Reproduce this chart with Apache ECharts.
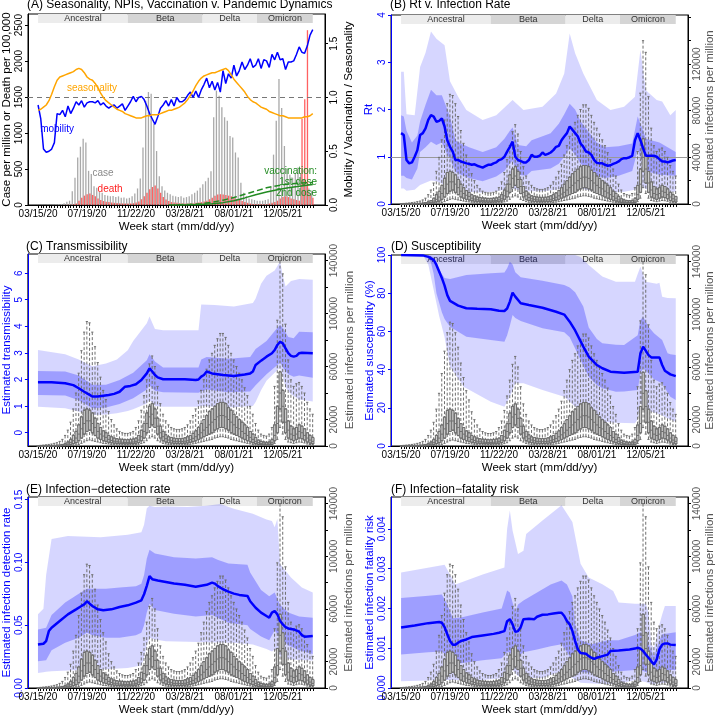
<!DOCTYPE html>
<html>
<head>
<meta charset="utf-8">
<script src="https://cdn.jsdelivr.net/npm/echarts@6.0.0/dist/echarts.min.js"></script>
<style>
html,body{margin:0;padding:0;background:#fff;}
#chart{width:717px;height:717px;}
</style>
</head>
<body>
<div id="chart"></div>
<script>
// ---------------- data ----------------
const xTickWeeks = [0, 18, 36, 54, 72, 90];
const xTickLabels = ['03/15/20', '07/19/20', '11/22/20', '03/28/21', '08/01/21', '12/05/21'];
const variants = ['Ancestral', 'Beta', 'Delta', 'Omicron'];
const variantStart = [0, 33, 60.5, 80.5];
const variantEnd = [33, 60.5, 80.5, 101];

// Panel A (weekly, week 0 = 03/15/20)
const casesPerMillion = [
  0,0,1,1,2,3,5,7,10,15,
  25,45,60,190,380,660,810,920,870,475,
  430,260,240,180,170,140,130,120,125,110,
  120,100,105,90,100,120,160,230,370,800,
  1450,1570,1545,1130,750,400,260,200,170,150,
  130,120,110,120,100,110,120,150,170,200,
  240,290,330,380,470,1220,1590,1520,1360,1220,
  1170,960,940,730,660,310,170,120,90,80,
  70,60,60,60,70,80,250,700,1170,1750,
  1350,820,500,420,380,450,520,430,350,280,
  230,200];
const deathsPer100k = [
  0,0,0,0,0,0,0,0,1,1,
  2,3,5,10,20,60,100,130,150,160,
  140,120,90,70,55,45,40,35,30,28,
  25,22,20,20,22,25,35,50,80,120,
  170,220,250,270,230,170,110,75,55,40,
  35,30,25,22,20,20,22,25,30,35,
  40,50,60,80,100,130,145,150,145,140,
  130,120,100,85,70,55,40,30,20,15,
  12,10,10,10,12,20,30,40,60,90,
  110,120,110,90,80,70,60,1200,1470,2430,
  150,100];
const mobility = [
  0.93,0.80,0.52,0.49,0.50,0.52,0.58,0.85,0.84,0.88,
  0.82,0.92,0.85,0.90,0.96,0.93,0.97,0.91,0.95,0.96,
  0.96,0.95,0.97,0.93,0.95,0.92,0.90,0.92,0.93,0.90,
  0.92,0.94,0.88,0.92,0.96,1.01,0.96,1.00,1.01,0.98,
  0.92,0.85,0.80,0.75,0.82,0.90,0.93,0.97,0.92,0.98,
  0.92,1.00,0.96,0.96,0.98,1.02,1.05,1.00,1.06,1.00,
  1.07,1.12,1.18,1.09,1.15,1.07,1.14,1.05,1.25,1.13,
  1.22,1.18,1.30,1.20,1.25,1.33,1.26,1.30,1.36,1.28,
  1.30,1.36,1.27,1.35,1.34,1.28,1.40,1.35,1.42,1.35,
  1.36,1.26,1.33,1.33,1.34,1.40,1.47,1.42,1.41,1.48,
  1.58,1.63];
const seasonality = [
  0.88,0.89,0.91,0.93,0.97,1.03,1.10,1.16,1.19,1.20,
  1.21,1.22,1.23,1.24,1.26,1.27,1.26,1.23,1.19,1.17,
  1.16,1.13,1.09,1.04,1.00,0.97,0.95,0.93,0.91,0.89,
  0.88,0.87,0.85,0.84,0.83,0.82,0.81,0.81,0.81,0.82,
  0.83,0.83,0.84,0.84,0.84,0.85,0.86,0.87,0.88,0.88,
  0.89,0.90,0.91,0.93,0.95,0.98,1.02,1.06,1.11,1.15,
  1.18,1.20,1.21,1.22,1.23,1.23,1.24,1.25,1.26,1.27,
  1.25,1.21,1.17,1.14,1.11,1.08,1.05,1.01,0.98,0.96,
  0.95,0.93,0.91,0.90,0.89,0.87,0.86,0.85,0.84,0.83,
  0.83,0.82,0.81,0.81,0.81,0.81,0.81,0.81,0.82,0.82,
  0.83,0.85];
const vaccine1st = [[48,0],[52,0.002],[56,0.006],[60,0.012],[64,0.025],[68,0.045],[72,0.07],[76,0.10],[80,0.13],[84,0.16],[88,0.18],[92,0.195],[96,0.203],[101,0.21]];
const vaccine2nd = [[50,0],[56,0.002],[60,0.005],[64,0.011],[68,0.022],[72,0.04],[76,0.066],[80,0.095],[84,0.12],[88,0.142],[92,0.16],[96,0.175],[101,0.19]];

// Estimated infections per million (weekly box plots, panels B-F)
const infMed = [
  50,80,100,120,150,200,250,300,400,600,
  900,1500,2500,4000,6000,9000,13000,17000,19000,19000,
  17000,14000,11000,9000,7500,6500,5000,4200,3600,3200,
  3000,2800,2700,2700,2800,3000,3500,4500,7000,11000,
  17000,22000,24000,21000,15000,10000,7000,5500,4500,4000,
  3500,3300,3300,3400,3600,4000,4800,5800,7000,8500,
  10000,12000,14000,16000,18000,20000,22000,23000,23000,22000,
  20000,18000,16000,14000,13000,11000,9500,8000,6500,5000,
  3500,2500,1800,1500,1400,1500,2500,8000,17000,40000,
  30000,18000,12000,9000,8000,9000,11000,10000,8000,6000,
  4500,3500];
const infQ1 = [
  20,30,40,50,60,80,100,120,150,250,
  400,600,1000,1800,2500,4000,6000,9000,11000,12000,
  10000,8000,6000,5000,4000,3500,2800,2400,2100,1900,
  1800,1700,1600,1600,1700,1800,2100,2600,4000,6000,
  10000,14000,16000,14000,9000,6000,4000,3000,2500,2200,
  2000,1900,1900,2000,2100,2300,2800,3300,4000,5000,
  6000,7000,8000,9000,10000,12000,13000,14000,14000,13000,
  12000,10000,9000,8000,7000,6000,5000,4000,3200,2500,
  1800,1200,900,700,700,800,1200,4000,10000,28000,
  18000,10000,6000,5000,4000,5000,6000,5500,4500,3000,
  2200,1700];
const infQ3 = [
  100,150,200,250,300,400,500,600,800,1200,
  1800,3000,5000,8000,11000,16000,22000,27000,28000,27000,
  25000,21000,17000,14000,11500,10000,8000,7000,6000,5500,
  5200,5000,4800,4800,5000,5300,6000,8000,12000,17000,
  25000,30000,32000,28000,21000,15000,11000,8500,7000,6500,
  6000,5700,5700,5800,6200,7000,8000,9500,11500,14000,
  17000,20000,23000,26000,28000,30000,32000,33000,33000,32000,
  29000,27000,24000,22000,20000,18000,16000,14000,11000,9000,
  6500,4500,3500,3000,2800,3000,5000,16000,30000,56000,
  42000,28000,19000,15000,13000,14000,16000,15000,13000,10000,
  8000,6500];
const infLo = [
  0,0,0,0,10,20,30,40,50,80,
  100,150,300,500,800,1200,2000,3000,4000,4500,
  4000,3500,3000,2500,2000,1800,1500,1200,1000,900,
  850,800,800,800,850,900,1000,1300,1800,2500,
  4000,6000,7000,6000,4000,3000,2000,1500,1200,1000,
  900,900,900,900,1000,1100,1300,1600,2000,2500,
  3000,3500,4000,4500,5000,6000,6500,7000,7000,6500,
  6000,5000,4500,4000,3500,3000,2500,2000,1600,1200,
  900,600,400,300,300,300,600,2000,5000,14000,
  9000,5000,3000,2500,2000,2500,3000,2800,2300,1500,
  1100,800];
const infHi = [
  300,500,700,900,1200,1500,2000,2500,3500,5000,
  8000,12000,18000,28000,40000,55000,72000,86000,94000,93000,
  86000,75000,63000,52000,42000,35000,26000,20000,16000,13000,
  11000,10000,9500,9500,10000,11000,14000,19000,27000,38000,
  50000,62000,68000,60000,45000,32000,24000,19000,16000,14000,
  13000,12500,12500,13000,14000,16000,19000,23000,28000,34000,
  42000,50000,58000,65000,70000,76000,81000,85000,85000,82000,
  76000,70000,65000,60000,55000,50000,44000,38000,30000,24000,
  17000,12000,9000,8000,7500,9000,14000,45000,95000,140000,
  130000,92000,65000,50000,45000,47000,48000,45000,40000,33000,
  28000,24000];

// Panel B: Rt (weekly median) and credible bands [week, low, high]
const rtMedian = [
  1.50,1.46,0.93,0.86,0.88,1.00,1.14,1.46,1.50,1.60,
  1.78,1.88,1.85,1.74,1.76,1.81,1.64,1.35,1.21,1.11,
  0.93,0.93,0.90,0.88,0.86,0.85,0.83,0.84,0.81,0.79,
  0.77,0.80,0.83,0.83,0.86,0.88,0.93,0.95,1.00,1.11,
  1.21,1.32,1.00,0.93,0.91,0.88,0.88,0.93,1.04,1.00,
  1.00,1.02,1.09,1.04,1.06,1.09,1.14,1.21,1.23,1.35,
  1.43,1.50,1.64,1.57,1.50,1.43,1.28,1.21,1.11,1.09,
  1.04,0.93,0.87,0.86,0.86,0.83,0.81,0.82,0.85,0.87,
  0.90,0.95,0.97,0.97,0.99,1.02,1.35,1.50,1.35,1.18,
  1.02,1.02,1.02,1.02,1.00,0.95,0.90,0.90,0.88,0.90,
  0.92,0.93];
const rtBand50 = [[0,0.60,1.88],[1,0.60,1.85],[2,0.55,1.55],[4,0.52,1.30],[6,0.75,1.45],[7,1.10,1.75],[9,1.20,2.10],[11,1.32,2.42],[13,1.25,2.30],[15,1.30,2.30],[17,1.05,2.00],[18,0.95,1.85],[20,0.68,1.35],[22,0.62,1.28],[25,0.55,1.20],[30,0.48,1.10],[35,0.58,1.20],[38,0.70,1.38],[40,0.85,1.55],[41,0.92,1.62],[43,0.62,1.25],[46,0.60,1.22],[48,0.70,1.35],[55,0.75,1.50],[58,0.85,1.70],[60,1.00,1.90],[62,1.18,2.12],[64,1.05,2.00],[66,0.85,1.75],[70,0.68,1.45],[72,0.60,1.30],[75,0.55,1.20],[80,0.60,1.22],[85,0.70,1.28],[87,1.15,1.85],[89,0.85,1.55],[90,0.70,1.38],[95,0.62,1.30],[101,0.60,1.10]];
const rtBand95 = [[0,0.33,2.80],[1,0.33,2.80],[2,0.28,1.90],[5,0.30,1.88],[7,0.40,2.90],[9,0.45,3.20],[11,0.50,3.65],[13,0.48,3.50],[16,0.40,3.36],[18,0.35,2.60],[21,0.28,2.27],[24,0.26,1.99],[30,0.24,1.78],[35,0.27,1.88],[41,0.33,2.20],[45,0.27,1.99],[52,0.27,2.06],[57,0.30,2.34],[60,0.33,2.76],[62,0.38,3.61],[64,0.36,3.19],[67,0.32,2.76],[72,0.26,2.20],[77,0.24,1.99],[82,0.26,2.06],[86,0.30,2.27],[88,0.40,3.26],[90,0.32,2.41],[94,0.28,2.20],[96,0.27,2.17],[99,0.26,1.88],[101,0.26,1.99]];

// Panel C: transmissibility
const trMedian = [[0,1.90],[5,1.90],[10,1.86],[13,1.79],[15,1.67],[17,1.54],[19,1.42],[20,1.36],[22,1.36],[24,1.39],[26,1.42],[28,1.46],[30,1.54],[32,1.73],[34,1.76],[36,1.82],[38,1.98],[40,2.23],[41,2.42],[42,2.30],[43,2.17],[44,2.08],[46,2.01],[50,2.01],[54,2.01],[58,1.98],[59,2.00],[60,2.11],[61,2.17],[62,2.30],[64,2.23],[68,2.17],[72,2.13],[76,2.19],[78,2.23],[79,2.30],[80,2.55],[82,2.71],[84,2.86],[86,2.99],[87,3.11],[88,3.30],[89,3.42],[90,3.36],[91,3.17],[92,2.99],[93,2.89],[94,2.86],[95,2.89],[96,2.99],[97,3.01],[101,2.99]];
const trBand50 = [[0,1.42,2.32],[10,1.40,2.30],[15,1.22,2.15],[20,0.92,1.80],[25,0.95,1.80],[30,1.08,1.98],[35,1.30,2.25],[40,1.62,2.72],[41,1.78,2.95],[43,1.58,2.68],[46,1.52,2.45],[59,1.50,2.45],[60,1.55,2.75],[62,1.62,2.85],[70,1.52,2.78],[78,1.55,2.85],[80,1.78,3.15],[84,2.20,3.45],[88,2.55,3.95],[89,2.65,4.05],[90,2.45,3.95],[92,2.20,3.60],[94,2.10,3.55],[96,2.15,3.80],[101,2.07,3.78]];
const trBand95 = [[0,0.98,3.11],[10,0.92,2.95],[15,0.80,2.75],[20,0.67,2.50],[25,0.68,2.60],[29,0.73,2.75],[33,0.82,3.10],[35,0.88,3.45],[40,1.10,4.12],[41,1.23,4.37],[43,1.00,3.90],[46,0.98,3.85],[55,0.98,3.85],[59,0.98,3.85],[60,1.00,4.82],[65,0.98,4.80],[72,0.96,4.75],[79,1.00,4.88],[80,1.15,5.05],[82,1.60,5.60],[84,1.95,5.90],[87,2.25,6.10],[89,2.45,6.44],[90,2.10,5.90],[91,1.70,5.50],[93,1.45,5.70],[96,1.25,5.78],[101,1.17,5.75]];

// Panel D: susceptibility (%)
const suMedian = [[0,100],[8,99.8],[10,99.0],[12,97.5],[13,94.8],[15,88],[16,84],[17,79],[18,76],[21,73.5],[24,72.1],[28,71.8],[33,71.6],[36,70.8],[38,70.7],[39,72],[40,75.6],[41,80.3],[42,78.2],[44,74.7],[47,73.8],[52,72.4],[57,70.3],[60,68.8],[62,65.1],[64,60.5],[67,52.0],[69,46.8],[72,42.4],[74,40.7],[77,38.9],[82,38.4],[87,38.9],[88,48.5],[89,52.0],[91,47.6],[92,46.4],[95,46.4],[96,42.4],[97,39.4],[99,37.5],[101,36.6]];
const suBand50 = [[0,100,100],[8,99.8,100],[10,99,100],[11,96,99.5],[12,90,98.5],[13,80,95],[15,70,90],[16,66.5,88],[18,62.5,87.5],[24,57.2,89.5],[33,55.5,90.5],[38,54.6,90.8],[39,58,93],[40,63,96.5],[41,68.6,95],[42,67,91],[44,65.5,88.3],[52,61.6,86.5],[60,59.5,84.3],[62,57,83],[64,51,80.5],[67,42,73],[69,36.3,62],[72,32,56],[74,30.2,53.8],[79,28.4,53],[82,28.5,52.9],[87,29.3,58],[88,38,66],[89,40.7,67.7],[91,38,62.5],[93,35,59],[96,32.8,55.5],[98,28,48.5],[99,25.8,48],[101,24.1,47.6]];
const suBand95 = [[0,100,100],[8,100,100],[10,95,100],[12,81.7,100],[14,68,100],[16,57,100],[18,41.5,100],[23,31,100],[33,23.2,100],[38,20.6,100],[40,25.8,100],[42,32.8,100],[45,32.8,100],[52,29.3,100],[60,25.8,100],[64,20.6,100],[66,18.5,99],[69,15.4,94.8],[74,12.7,88.7],[79,12.2,86],[86,11.9,86],[87,14,90],[88,22.3,93.9],[90,18.8,86],[94,17.1,85],[95,16.5,85.5],[96,16,78.2],[98,14.5,77.5],[101,12.7,77.3]];

// Panel E: infection-detection rate
const idMedian = [[0,0.0346],[2,0.0352],[3,0.0373],[4,0.0453],[5,0.048],[8,0.0533],[11,0.0586],[14,0.0626],[16,0.0653],[17,0.0666],[18,0.0690],[19,0.0671],[20,0.0653],[22,0.0626],[24,0.0618],[27,0.0626],[30,0.0645],[33,0.0658],[36,0.0679],[38,0.0698],[39,0.0746],[40,0.0813],[41,0.0890],[42,0.0866],[44,0.0855],[46,0.0847],[50,0.0831],[54,0.0821],[58,0.0805],[60,0.0813],[62,0.0821],[64,0.0839],[65,0.0831],[66,0.0813],[68,0.0786],[70,0.0767],[72,0.0751],[74,0.0741],[77,0.0733],[78,0.0690],[80,0.0639],[82,0.0600],[84,0.0573],[85,0.0560],[86,0.0600],[87,0.0613],[88,0.0586],[89,0.0533],[90,0.0506],[91,0.0485],[92,0.0474],[94,0.0466],[96,0.0448],[97,0.0421],[98,0.0408],[101,0.0413]];
const idBand50 = [[0,0.0213,0.0466],[3,0.022,0.048],[5,0.030,0.058],[10,0.036,0.068],[15,0.040,0.075],[18,0.044,0.079],[20,0.042,0.079],[25,0.040,0.079],[30,0.040,0.080],[36,0.042,0.081],[38,0.044,0.083],[39,0.050,0.090],[40,0.060,0.103],[41,0.067,0.110],[43,0.062,0.107],[50,0.059,0.104],[58,0.057,0.103],[64,0.058,0.104],[66,0.056,0.102],[70,0.052,0.099],[77,0.050,0.098],[78,0.047,0.092],[82,0.041,0.078],[85,0.038,0.073],[87,0.046,0.076],[89,0.040,0.066],[92,0.034,0.060],[96,0.030,0.057],[101,0.027,0.056]];
const idBand95 = [[0,0.012,0.0586],[2,0.0125,0.063],[3,0.013,0.090],[5,0.0133,0.1186],[11,0.014,0.121],[23,0.0147,0.120],[33,0.016,0.122],[38,0.018,0.124],[39,0.024,0.130],[40,0.034,0.143],[41,0.040,0.145],[43,0.0386,0.144],[47,0.0373,0.1445],[55,0.0368,0.144],[62,0.0365,0.145],[67,0.0362,0.1465],[72,0.036,0.1426],[79,0.0346,0.1386],[84,0.031,0.134],[86,0.029,0.133],[87,0.0306,0.128],[88,0.030,0.1346],[89,0.025,0.0986],[93,0.0226,0.088],[97,0.0222,0.080],[101,0.0218,0.076]];

// Panel F: infection-fatality risk
const ifMedian = [[0,0.00152],[5,0.00157],[10,0.00163],[14,0.00166],[15,0.00164],[16,0.00153],[17,0.00135],[18,0.00118],[19,0.00109],[20,0.00109],[21,0.00114],[22,0.00118],[24,0.00122],[26,0.00128],[30,0.00132],[34,0.00136],[36,0.00139],[38,0.00143],[39,0.00168],[40,0.00173],[41,0.00160],[42,0.00141],[43,0.00143],[44,0.00153],[45,0.00173],[47,0.00174],[49,0.00173],[50,0.00179],[52,0.00184],[54,0.00185],[56,0.00187],[58,0.00189],[59,0.00189],[60,0.00181],[61,0.00168],[62,0.00160],[63,0.00143],[64,0.00118],[65,0.00097],[66,0.00088],[68,0.00086],[69,0.00080],[70,0.00076],[71,0.00073],[72,0.00076],[74,0.00080],[76,0.00084],[77,0.00093],[80,0.00094],[84,0.00097],[86,0.00099],[87,0.00101],[88,0.00099],[89,0.00093],[90,0.00084],[91,0.00076],[92,0.00067],[93,0.00059],[94,0.00072],[95,0.00097],[96,0.00109],[97,0.00112],[98,0.00112],[99,0.00109],[101,0.00108]];
const ifBand50 = [[0,0.00084,0.00226],[10,0.00090,0.00232],[15,0.00092,0.00235],[17,0.00080,0.00210],[19,0.00060,0.00175],[22,0.00062,0.00177],[30,0.00070,0.00190],[37,0.00075,0.00200],[39,0.00090,0.00245],[40,0.00090,0.00240],[42,0.00075,0.00190],[43,0.00080,0.00210],[45,0.00090,0.00220],[50,0.00097,0.00240],[55,0.00105,0.00260],[59,0.00110,0.00270],[61,0.00090,0.00260],[63,0.00070,0.00230],[64,0.00050,0.00160],[66,0.00040,0.00120],[70,0.00038,0.00110],[76,0.00040,0.00120],[80,0.00042,0.00120],[86,0.00045,0.00133],[88,0.00045,0.00140],[90,0.00040,0.00125],[93,0.00028,0.00080],[95,0.00040,0.00120],[96,0.00045,0.00135],[101,0.00045,0.00140]];
const ifBand95 = [[0,0.00017,0.00290],[16,0.00020,0.00310],[20,0.00020,0.00260],[30,0.00020,0.00285],[38,0.00025,0.00303],[39,0.00040,0.00400],[40,0.00050,0.00446],[41,0.00045,0.00396],[43,0.00030,0.00337],[45,0.00025,0.00345],[46,0.00025,0.00387],[52,0.00025,0.00421],[59,0.00042,0.00459],[63,0.00025,0.00417],[66,0.00013,0.00312],[69,0.00012,0.00278],[74,0.00010,0.00261],[78,0.00010,0.00244],[80,0.00010,0.00215],[86,0.00020,0.00212],[90,0.00015,0.00212],[91,0.00012,0.00190],[92,0.00010,0.00110],[93,0.00010,0.00100],[95,0.00012,0.00160],[96,0.00012,0.00185],[97,0.00013,0.00206],[101,0.00013,0.00206]];

// axis tick values / labels
const aLeftTicks = [0, 500, 1000, 1500, 2000, 2500];
const aRightTicks = [0, 0.5, 1, 1.5];
const aRightLabels = ['0.0', '0.5', '1.0', '1.5'];
const bLeftTicks = [0, 1, 2, 3, 4];
const cLeftTicks = [0, 1, 2, 3, 4, 5, 6];
const dLeftTicks = [0, 20, 40, 60, 80, 100];
const eLeftTicks = [0, 0.05, 0.10, 0.15];
const eLeftLabels = ['0.00', '0.05', '0.10', '0.15'];
const fLeftTicks = [0, 0.001, 0.002, 0.003, 0.004];
const fLeftLabels = ['0.000', '0.001', '0.002', '0.003', '0.004'];
const infTicksB = [0, 20000, 40000, 60000, 80000, 100000, 120000, 140000, 160000];
const infLabelsB = [0, 40000, 80000, 120000];
const infTicks = [0, 20000, 40000, 60000, 80000, 100000, 120000, 140000];
const infLabels = [0, 20000, 60000, 100000, 140000];

// ---------------- layout / style ----------------
const FF = "'Liberation Sans',Arial,sans-serif";
const BLUE = '#0000ff';
const LIGHT = 'rgba(0,0,255,0.16)';
const DARK = 'rgba(0,0,255,0.26)';
const GREY = '#555555';
const grids = [
  {left: 27, top: 14, width: 298, height: 191},
  {left: 391, top: 15, width: 299, height: 189},
  {left: 26, top: 254, width: 299, height: 192},
  {left: 391, top: 255, width: 299, height: 191},
  {left: 26, top: 497, width: 299, height: 191},
  {left: 391, top: 497, width: 299, height: 191}
];
const titles = ['(A) Seasonality, NPIs, Vaccination v. Pandemic Dynamics', '(B) Rt v. Infection Rate',
  '(C) Transmissibility', '(D) Susceptibility', '(E) Infection\u2212detection rate', '(F) Infection\u2212fatality risk'];
const titlePos = [[27, -1], [390, -1], [26, 241], [391, 241], [26, 484], [391, 484]];
const yLeftMin = [0, 0, -0.5, 0, 0, 0];
const yLeftMax = [2655, 4, 6.72, 100, 0.152, 0.0048];
const yRightMax = [1.776, 162000, 145000, 145000, 145000, 145000];
const leftNames = ['Case per million or Death per 100,000', 'Rt', 'Estimated transmissibility',
  'Estimated susceptibility (%)', 'Estimated infection detection rate', 'Estimated infection fatality risk'];
const rightNames = ['Mobility / Vaccination / Seasonality', 'Estimated infections per million', 'Estimated infections per million',
  'Estimated infections per million', 'Estimated infections per million', 'Estimated infections per million'];
const leftTicks = [aLeftTicks, bLeftTicks, cLeftTicks, dLeftTicks, eLeftTicks, fLeftTicks];
const leftLabelText = [null, null, null, null, eLeftLabels, fLeftLabels];
const leftNameGap = [15, 16, 14, 15, 14, 15];
const rightNameGap = [18, 16, 19, 16, 18, 16];
const bandFrac = 9 / 191;
const variantFill = ['#ececec', '#d5d5d5', '#ececec', '#d5d5d5'];

const weekTicks = [];
for (let w = 0; w <= 101; w++) weekTicks.push(w);

function labelFrom(ticks, labels) {
  return function (v) {
    const k = ticks.findIndex(t => Math.abs(t - v) < 1e-9);
    return k < 0 ? '' : String(labels ? labels[k] : ticks[k]);
  };
}

const xAxes = grids.map((g, i) => ({
  type: 'value', gridIndex: i, min: -3.7, max: 105.5,
  name: 'Week start (mm/dd/yy)', nameLocation: 'middle', nameGap: 16,
  nameTextStyle: {fontSize: 11.5, color: '#000', fontFamily: FF},
  axisLine: {show: true, onZero: false, lineStyle: {color: '#000', width: 1}},
  axisTick: {show: true, length: 3, customValues: weekTicks, lineStyle: {color: '#000'}},
  axisLabel: {show: true, customValues: xTickWeeks, formatter: labelFrom(xTickWeeks, xTickLabels),
    fontSize: 10, color: '#000', margin: 4, fontFamily: FF},
  splitLine: {show: false}
}));

const yAxes = [];
grids.forEach((g, i) => {
  const lc = i === 0 ? '#000' : BLUE;
  yAxes.push({
    type: 'value', gridIndex: i, position: 'left', min: yLeftMin[i], max: yLeftMax[i],
    name: leftNames[i], nameLocation: 'middle', nameGap: leftNameGap[i],
    nameTextStyle: {fontSize: 11.5, color: lc, fontFamily: FF},
    axisLine: {show: true, onZero: false, lineStyle: {color: lc}},
    axisTick: {show: true, length: 3, customValues: leftTicks[i], lineStyle: {color: lc}},
    axisLabel: {customValues: leftTicks[i], formatter: labelFrom(leftTicks[i], leftLabelText[i]),
      rotate: 90, color: lc, fontSize: 10, margin: 4, fontFamily: FF},
    splitLine: {show: false}
  });
  const rt = i === 0 ? aRightTicks : (i === 1 ? infTicksB : infTicks);
  const rl = i === 0 ? aRightTicks : (i === 1 ? infLabelsB : infLabels);
  const rc = i === 0 ? '#000' : GREY;
  yAxes.push({
    type: 'value', gridIndex: i, position: 'right', min: 0, max: yRightMax[i],
    name: rightNames[i], nameLocation: 'middle', nameGap: rightNameGap[i],
    nameTextStyle: {fontSize: 11.5, color: rc, fontFamily: FF},
    axisLine: {show: true, onZero: false, lineStyle: {color: '#000'}},
    axisTick: {show: true, length: 3, customValues: rt, lineStyle: {color: '#000'}},
    axisLabel: {customValues: rl, formatter: labelFrom(rl, i === 0 ? aRightLabels : null),
      rotate: 90, color: rc, fontSize: 10, margin: 4, fontFamily: FF},
    splitLine: {show: false}
  });
});

function variantArea(i) {
  const top = yLeftMax[i];
  const bot = top - (yLeftMax[i] - yLeftMin[i]) * bandFrac;
  return {
    silent: true,
    label: {show: true, position: 'inside', color: '#333', fontSize: 9, fontFamily: FF},
    data: variants.map((v, k) => [
      {name: v, xAxis: variantStart[k], yAxis: top, itemStyle: {color: variantFill[k]}},
      {xAxis: variantEnd[k], yAxis: bot}
    ])
  };
}

function ribbonRender(color) {
  return function (params, api) {
    if (params.dataIndexInside !== 0) return null;
    const n = params.dataInsideLength;
    const top = [], bot = [];
    for (let k = 0; k < n; k++) {
      const x = api.value(0, k);
      top.push(api.coord([x, api.value(2, k)]));
      bot.push(api.coord([x, api.value(1, k)]));
    }
    return {type: 'polygon', shape: {points: top.concat(bot.reverse())}, style: {fill: color}, silent: true};
  };
}

const series = [];

// ----- Panel A -----
series.push({
  type: 'bar', name: 'case', xAxisIndex: 0, yAxisIndex: 0, barWidth: 1.3, barGap: '0%',
  data: casesPerMillion.map((v, k) => [k, v]), itemStyle: {color: '#a9a9a9'}, z: 2, silent: true,
  markArea: variantArea(0)
});
series.push({
  type: 'bar', name: 'death', xAxisIndex: 0, yAxisIndex: 0, barWidth: 1.3, barGap: '0%',
  data: deathsPer100k.map((v, k) => [k, v]), itemStyle: {color: 'rgba(255,30,30,0.7)'}, z: 2, silent: true
});
function note(text, coord, color, pos) {
  return {name: text, coord: coord, label: {color: color, position: pos || 'inside'}};
}
const noteStyle = {symbol: 'circle', symbolSize: 0, silent: true,
  label: {show: true, formatter: '{b}', fontSize: 10, fontFamily: FF, distance: 0}};
series.push({
  type: 'line', name: 'mobility', xAxisIndex: 0, yAxisIndex: 1, symbol: 'none', silent: true,
  data: mobility.map((v, k) => [k, v]), lineStyle: {color: BLUE, width: 1.5}, z: 4,
  markLine: {silent: true, symbol: 'none', z: 3, label: {show: false},
    lineStyle: {color: '#777', type: [5, 4], width: 1}, data: [{yAxis: 1}]},
  markPoint: Object.assign({}, noteStyle, {data: [note('mobility', [7, 0.70], BLUE)]})
});
series.push({
  type: 'bar', name: 'case-note', xAxisIndex: 0, yAxisIndex: 0, data: [], silent: true,
  markPoint: Object.assign({}, noteStyle, {data: [
    note('case', [23.4, 447], '#8a8a8a'),
    note('death', [26, 224], '#ff2020')
  ]})
});
series.push({
  type: 'line', name: 'seasonality', xAxisIndex: 0, yAxisIndex: 1, symbol: 'none', silent: true,
  data: seasonality.map((v, k) => [k, v]), lineStyle: {color: '#ffa500', width: 1.5}, z: 4,
  markPoint: Object.assign({}, noteStyle, {data: [note('seasonality', [19.8, 1.09], '#ffa500')]})
});
series.push({
  type: 'line', name: '1st dose', xAxisIndex: 0, yAxisIndex: 1, symbol: 'none', silent: true,
  data: vaccine1st, lineStyle: {color: '#228b22', width: 1.5, type: [6, 3]}, z: 4
});
series.push({
  type: 'line', name: '2nd dose', xAxisIndex: 0, yAxisIndex: 1, symbol: 'none', silent: true,
  data: vaccine2nd, lineStyle: {color: '#228b22', width: 1.5}, z: 4,
  markPoint: Object.assign({}, noteStyle, {data: [
    note('vaccination:', [102.6, 0.318], '#228b22', 'left'),
    note('1st dose', [102.6, 0.215], '#228b22', 'left'),
    note('2nd dose', [102.6, 0.112], '#228b22', 'left')
  ]})
});

// ----- Panels B-F -----
const boxWhisker = infMed.map((m, k) => [k, infLo[k], infQ1[k], m, infQ3[k], infHi[k]]);
const boxBody = infMed.map((m, k) => [k, infQ1[k], infQ1[k], m, infQ3[k], infQ3[k]]);
const panelLines = [null, rtMedian.map((v, k) => [k, v]), trMedian, suMedian, idMedian, ifMedian];
const panel50 = [null, rtBand50, trBand50, suBand50, idBand50, ifBand50];
const panel95 = [null, rtBand95, trBand95, suBand95, idBand95, ifBand95];

for (let i = 1; i <= 5; i++) {
  series.push({type: 'custom', xAxisIndex: i, yAxisIndex: 2 * i, data: panel95[i], encode: {x: 0, y: [1, 2]},
    renderItem: ribbonRender(LIGHT), z: 2, silent: true});
  series.push({type: 'custom', xAxisIndex: i, yAxisIndex: 2 * i, data: panel50[i], encode: {x: 0, y: [1, 2]},
    renderItem: ribbonRender(DARK), z: 2, silent: true});
  series.push({type: 'boxplot', xAxisIndex: i, yAxisIndex: 2 * i + 1, data: boxWhisker, boxWidth: [2.2, 2.2],
    itemStyle: {color: 'rgba(0,0,0,0)', borderColor: '#6f6f6f', borderWidth: 1, borderType: [3, 2]},
    emphasis: {disabled: true}, z: 3, silent: true});
  series.push({type: 'boxplot', xAxisIndex: i, yAxisIndex: 2 * i + 1, data: boxBody, boxWidth: [2.2, 2.2],
    itemStyle: {color: '#cfcfcf', borderColor: '#6f6f6f', borderWidth: 1},
    emphasis: {disabled: true}, z: 3, silent: true});
  const mainLine = {type: 'line', xAxisIndex: i, yAxisIndex: 2 * i, data: panelLines[i], symbol: 'none',
    lineStyle: {color: BLUE, width: 2.5}, z: 4, silent: true, markArea: variantArea(i)};
  if (i === 1) {
    mainLine.markLine = {silent: true, symbol: 'none', z: 3, label: {show: false},
      lineStyle: {color: '#999', type: 'solid', width: 1}, data: [{yAxis: 1}]};
  }
  series.push(mainLine);
}

const chart = echarts.init(document.getElementById('chart'), null, {renderer: 'canvas'});
chart.setOption({
  animation: false,
  backgroundColor: '#fff',
  textStyle: {fontFamily: FF},
  title: titles.map((t, i) => ({text: t, left: titlePos[i][0], top: titlePos[i][1], padding: 0,
    textStyle: {fontSize: 12, fontWeight: 'normal', color: '#000', fontFamily: FF}})),
  grid: grids.map(g => Object.assign({show: true, borderColor: '#000', borderWidth: 1, backgroundColor: 'transparent'}, g)),
  xAxis: xAxes,
  yAxis: yAxes,
  series: series
});
</script>
</body>
</html>
